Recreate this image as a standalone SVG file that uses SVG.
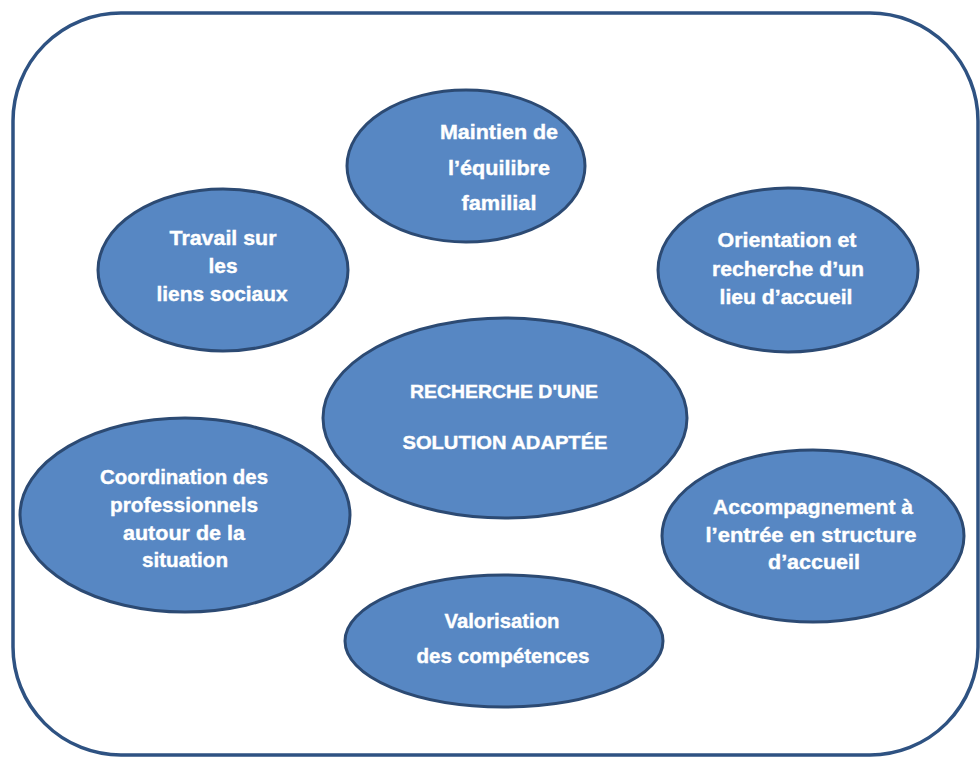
<svg xmlns="http://www.w3.org/2000/svg" width="980" height="758" viewBox="0 0 980 758">
<style>
.frame{fill:#ffffff;stroke:#2E5282;stroke-width:3.5}
.node ellipse{fill:#5787C3;stroke:#2C4A73;stroke-width:3}
.node text{fill:#ffffff;font-family:"Liberation Sans",Arial,sans-serif;font-weight:bold;font-size:21px;text-anchor:middle;stroke:#ffffff;stroke-width:0.4}
.node text.big{font-size:19px}
</style>
<rect width="980" height="758" fill="#ffffff"/>
<rect class="frame" x="13" y="13" width="965" height="742" rx="108" ry="108"/>
<g id="connectors"></g>
<g id="n-maintien" class="node">
<ellipse cx="466" cy="166" rx="119" ry="76"/>
<text x="499" y="139" textLength="118" lengthAdjust="spacingAndGlyphs">Maintien de</text>
<text x="499" y="175" textLength="102" lengthAdjust="spacingAndGlyphs">l’équilibre</text>
<text x="499" y="210" textLength="75" lengthAdjust="spacingAndGlyphs">familial</text>
</g>
<g id="n-travail" class="node">
<ellipse cx="223" cy="270" rx="125" ry="81"/>
<text x="223" y="245" textLength="107" lengthAdjust="spacingAndGlyphs">Travail sur</text>
<text x="223" y="273" textLength="29" lengthAdjust="spacingAndGlyphs">les</text>
<text x="222" y="301" textLength="131" lengthAdjust="spacingAndGlyphs">liens sociaux</text>
</g>
<g id="n-orientation" class="node">
<ellipse cx="788" cy="270" rx="130" ry="82"/>
<text x="787" y="247" textLength="139" lengthAdjust="spacingAndGlyphs">Orientation et</text>
<text x="788" y="276" textLength="152" lengthAdjust="spacingAndGlyphs">recherche d’un</text>
<text x="786" y="304" textLength="133" lengthAdjust="spacingAndGlyphs">lieu d’accueil</text>
</g>
<g id="n-center" class="node">
<ellipse cx="505" cy="418" rx="182" ry="100"/>
<text class="big" x="504" y="398" textLength="188" lengthAdjust="spacingAndGlyphs">RECHERCHE D'UNE</text>
<text class="big" x="505" y="449" textLength="205" lengthAdjust="spacingAndGlyphs">SOLUTION  ADAPTÉE</text>
</g>
<g id="n-coordination" class="node">
<ellipse cx="185" cy="515" rx="165" ry="97"/>
<text x="184" y="484" textLength="168" lengthAdjust="spacingAndGlyphs">Coordination des</text>
<text x="184" y="512" textLength="148" lengthAdjust="spacingAndGlyphs">professionnels</text>
<text x="184" y="540" textLength="122" lengthAdjust="spacingAndGlyphs">autour de la</text>
<text x="185" y="567" textLength="86" lengthAdjust="spacingAndGlyphs">situation</text>
</g>
<g id="n-accompagnement" class="node">
<ellipse cx="813" cy="536" rx="151" ry="86"/>
<text x="813" y="514" textLength="200" lengthAdjust="spacingAndGlyphs">Accompagnement à</text>
<text x="811" y="542" textLength="211" lengthAdjust="spacingAndGlyphs">l’entrée en structure</text>
<text x="814" y="569" textLength="92" lengthAdjust="spacingAndGlyphs">d’accueil</text>
</g>
<g id="n-valorisation" class="node">
<ellipse cx="504" cy="641" rx="159" ry="66"/>
<text x="502" y="628" textLength="115" lengthAdjust="spacingAndGlyphs">Valorisation</text>
<text x="503" y="663" textLength="173" lengthAdjust="spacingAndGlyphs">des compétences</text>
</g>
</svg>
